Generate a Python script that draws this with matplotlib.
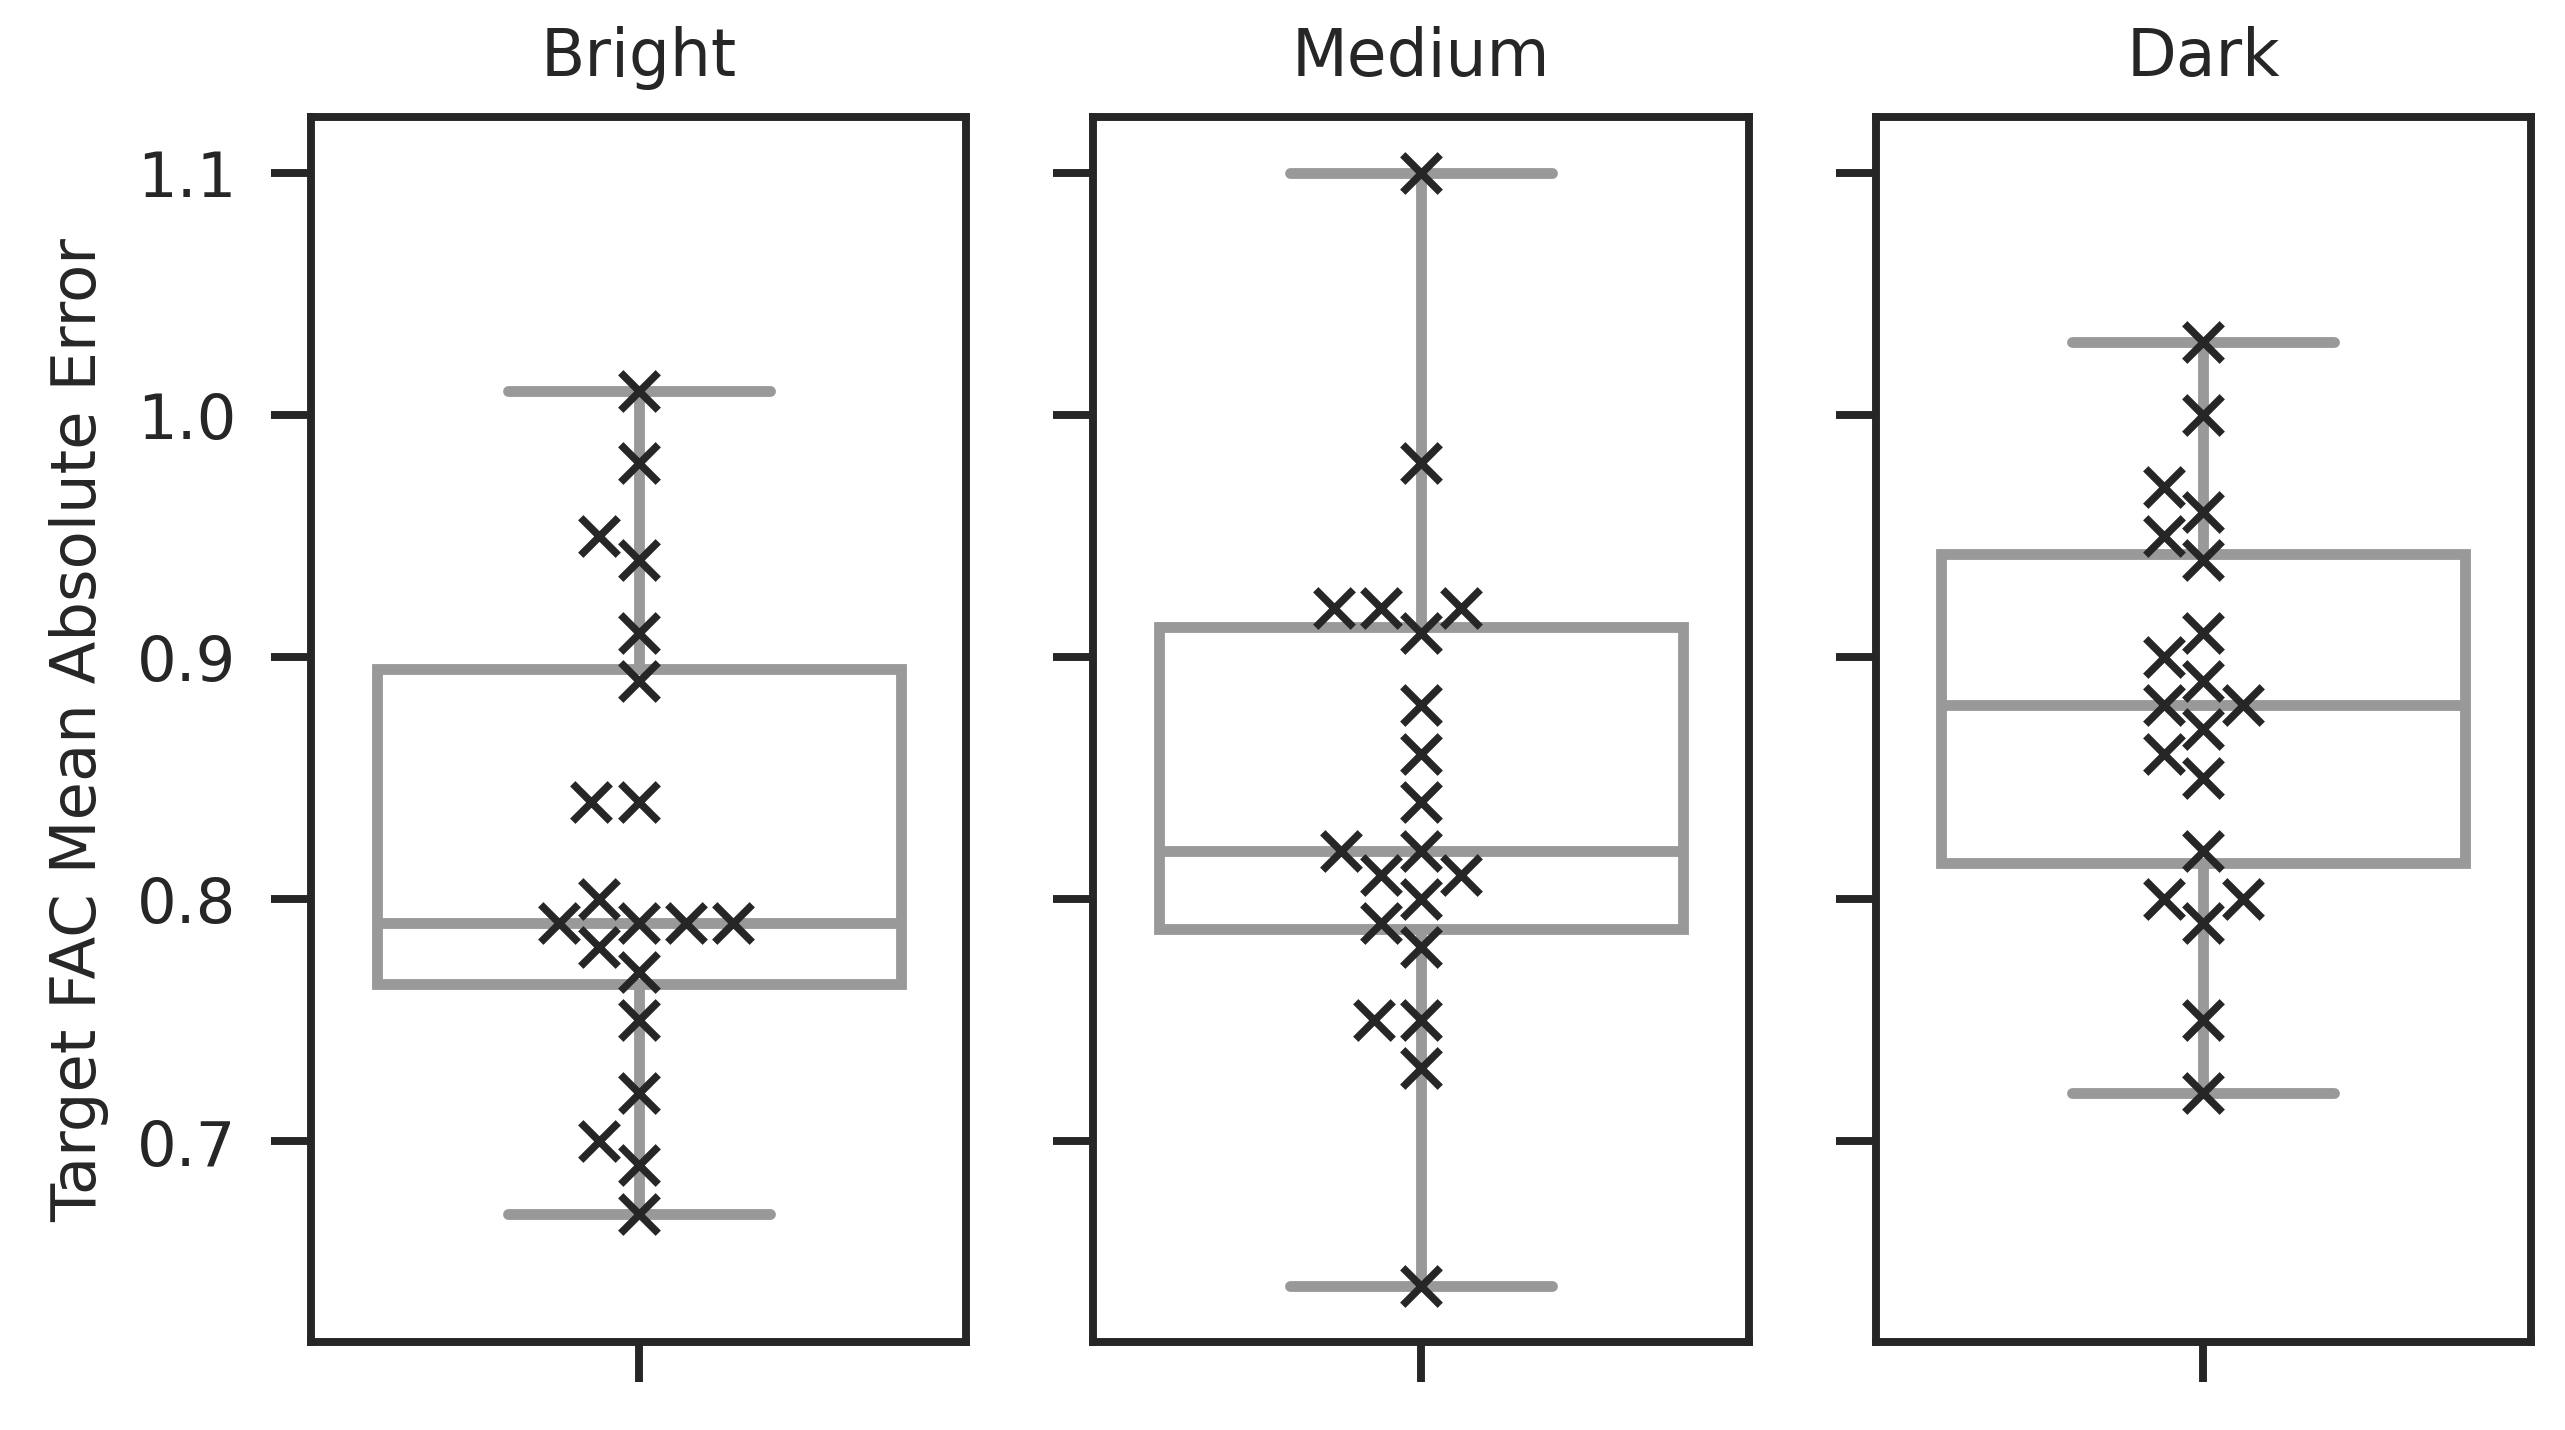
import numpy as np
import seaborn as sns
import matplotlib.pyplot as plt

# MAE per run (20 runs per condition)
groups = ["Bright", "Medium", "Dark"]
bright = [1.01, 0.98, 0.95, 0.94, 0.91, 0.89, 0.84, 0.84, 0.80, 0.79,
          0.79, 0.79, 0.79, 0.78, 0.77, 0.75, 0.72, 0.70, 0.69, 0.67]
medium = [1.10, 0.98, 0.92, 0.92, 0.92, 0.91, 0.88, 0.86, 0.84, 0.82,
          0.82, 0.81, 0.81, 0.80, 0.79, 0.78, 0.75, 0.75, 0.73, 0.64]
dark = [1.03, 1.00, 0.97, 0.96, 0.95, 0.94, 0.91, 0.90, 0.89, 0.88,
        0.88, 0.87, 0.86, 0.85, 0.82, 0.80, 0.80, 0.79, 0.75, 0.72]
values = [bright, medium, dark]
ylabel = "Target FAC Mean Absolute Error"

sns.set_theme(style="ticks", context="talk")
plt.rcParams["font.family"] = ["DejaVu Sans"]
plt.rcParams.update({
    "axes.linewidth": 1.9,
    "xtick.major.width": 1.9, "ytick.major.width": 1.9,
    "xtick.major.size": 9.6, "ytick.major.size": 9.6,
    "xtick.major.pad": 8.4, "ytick.major.pad": 8.4,
    "xtick.labelsize": 15, "ytick.labelsize": 15,
    "axes.labelsize": 15, "axes.titlesize": 15.5,
})

W, H = 2565, 1431
fig, axes = plt.subplots(1, 3, figsize=(W / 300, H / 300), dpi=300, sharey=True)
fig.subplots_adjust(left=311 / W, right=2531 / W, top=1 - 118 / H,
                    bottom=1 - 1343 / H, wspace=0.194)

grey = "#999999"
lw = 2.6
for ax, name, vals in zip(axes, groups, values):
    ax.boxplot(vals, positions=[0], widths=0.8, whis=(0, 100),
               showfliers=False, patch_artist=True,
               boxprops=dict(facecolor="white", edgecolor=grey, linewidth=lw),
               medianprops=dict(color=grey, linewidth=lw),
               whiskerprops=dict(color=grey, linewidth=lw),
               capprops=dict(color=grey, linewidth=lw, solid_capstyle="round"))
    sns.swarmplot(y=vals, ax=ax, marker="x", color="#262626", size=9,
                  linewidth=1.8, zorder=3)
    ax.set_xlim(-0.5, 0.5)
    ax.set_xticks([0])
    ax.set_xticklabels([""])
    ax.set_xlabel("")
    ax.set_title(name, pad=10)

axes[0].set_ylabel(ylabel, labelpad=6.5)

fig.savefig("out.png", dpi=300)
